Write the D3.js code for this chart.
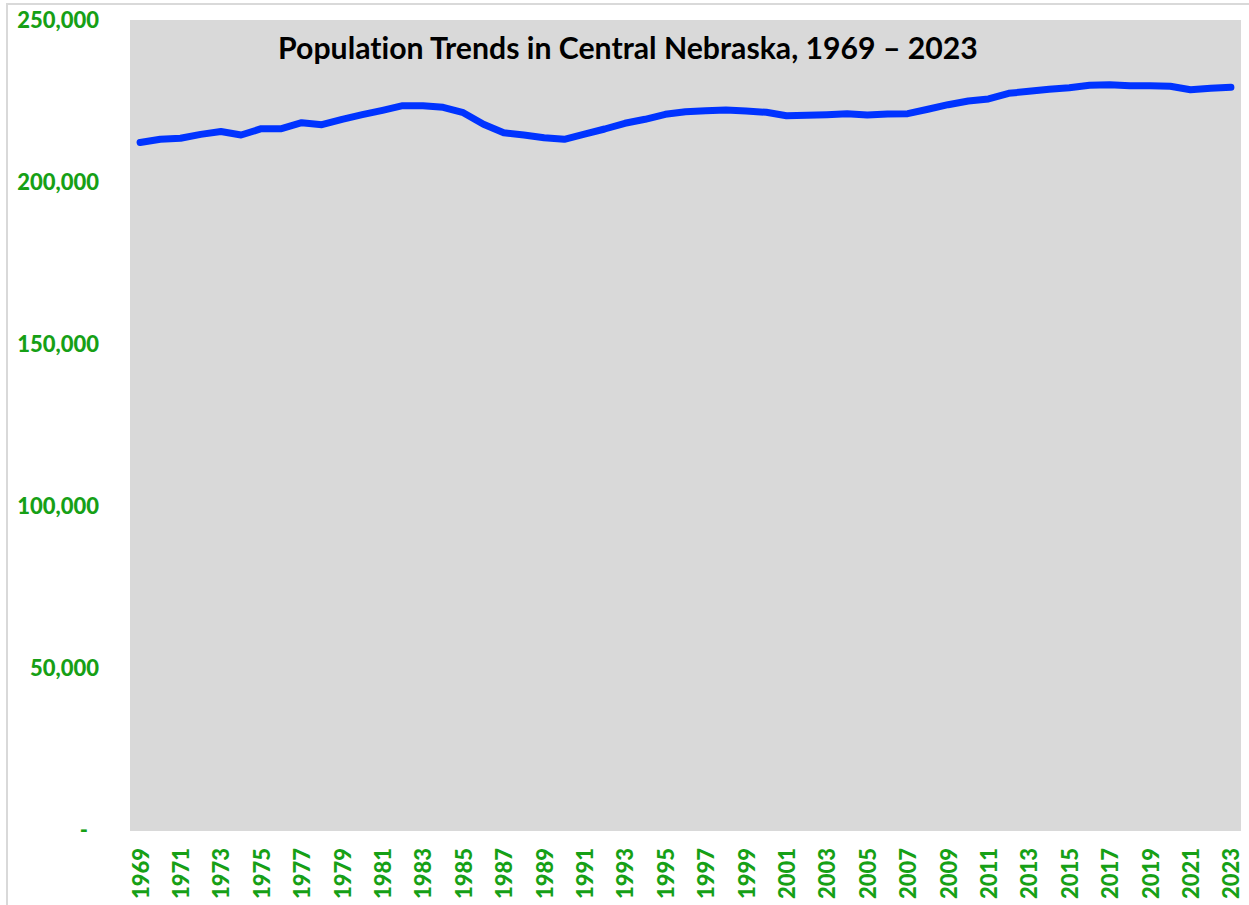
<!DOCTYPE html>
<html>
<head>
<meta charset="utf-8">
<script src="https://cdn.jsdelivr.net/npm/d3@7"></script>
<style>
  body{margin:0;background:#fff;}
  svg{display:block;}
  text{font-variant-ligatures:none;}
</style>
</head>
<body>
<svg id="svg" width="1249" height="905"></svg>
<script>
const years=d3.range(1969,2024);
// population estimates
const population=[
  212200,213200,213500,214700,215600,214500,216450,216450,218300,217700,
  219350,220770,222130,223550,223550,223060,221390,217810,215220,214510,
  213670,213180,214810,216360,218120,219350,220900,221700,222010,222220,
  221910,221510,220460,220590,220770,221080,220680,220990,221080,222440,
  223860,225000,225620,227370,227990,228610,229100,229840,230030,229720,
  229720,229530,228490,228920,229230
];
const yTicks=[0,50000,100000,150000,200000,250000];
const titleText="Population Trends in Central Nebraska, 1969 \u2013 2023";

const green="#16a016";
const plotLeft=130, plotRight=1241, plotTop=20, plotBottom=831;

var svg=d3.select("#svg");

//outer chart border
svg.append("rect")
    .attr("x",7).attr("y",4)
    .attr("width",1300).attr("height",1000)
    .attr("fill","#fff")
    .attr("stroke","#d9d9d9")
    .attr("stroke-width",2)

//plot background
svg.append("rect")
    .attr("x",plotLeft).attr("y",plotTop)
    .attr("width",plotRight-plotLeft).attr("height",plotBottom-plotTop)
    .attr("fill","#d9d9d9")

var x=d3.scalePoint().domain(years).range([plotLeft,plotRight]).padding(0.5)
var y=d3.scaleLinear().domain([0,250000]).range([830,20])

//y axis
var yAxis=svg.append("g")
    .attr("transform","translate("+plotLeft+",0)")
    .call(d3.axisLeft(y).tickValues(yTicks).tickSize(0).tickPadding(31)
        .tickFormat(d=>d===0?"-":d3.format(",")(d)))
yAxis.select(".domain").remove()
yAxis.selectAll("text")
    .attr("fill",green)
    .style("font-family","Lato, 'Open Sans', sans-serif")
    .style("font-weight","900")
    .style("font-size","22px")
    .attr("dx",d=>d===0?-11:0)

//x axis, every other year labelled
var xAxis=svg.append("g")
    .attr("transform","translate(0,"+plotBottom+")")
    .call(d3.axisBottom(x).tickValues(years.filter((d,i)=>i%2===0)).tickSize(0))
xAxis.select(".domain").remove()
xAxis.selectAll("text")
    .attr("fill",green)
    .style("font-family","Lato, 'Open Sans', sans-serif")
    .style("font-weight","900")
    .style("font-size","22px")
    .attr("text-anchor","end")
    .attr("transform","rotate(-90)")
    .attr("x",-17)
    .attr("y",0)
    .attr("dy","0.36em")

//title
var title=svg.append("text")
    .attr("x",628)
    .attr("y",59)
    .attr("text-anchor","middle")
    .style("font-family","Lato, 'Open Sans', sans-serif")
    .style("font-weight","bold")
    .style("font-size","30px")
    .attr("fill","#000")
    .text(titleText)
//fit the title to the width seen in the original (~700px)
var tl=title.node().getComputedTextLength();
title.style("font-size",(30*700/tl)+"px")

//population line
var line=d3.line().x((d,i)=>x(years[i])).y(d=>y(d))
svg.append("path")
    .datum(population)
    .attr("d",line)
    .attr("fill","none")
    .attr("stroke","#0033ff")
    .attr("stroke-width",7)
    .attr("stroke-linecap","round")
    .attr("stroke-linejoin","round")
</script>
</body>
</html>
